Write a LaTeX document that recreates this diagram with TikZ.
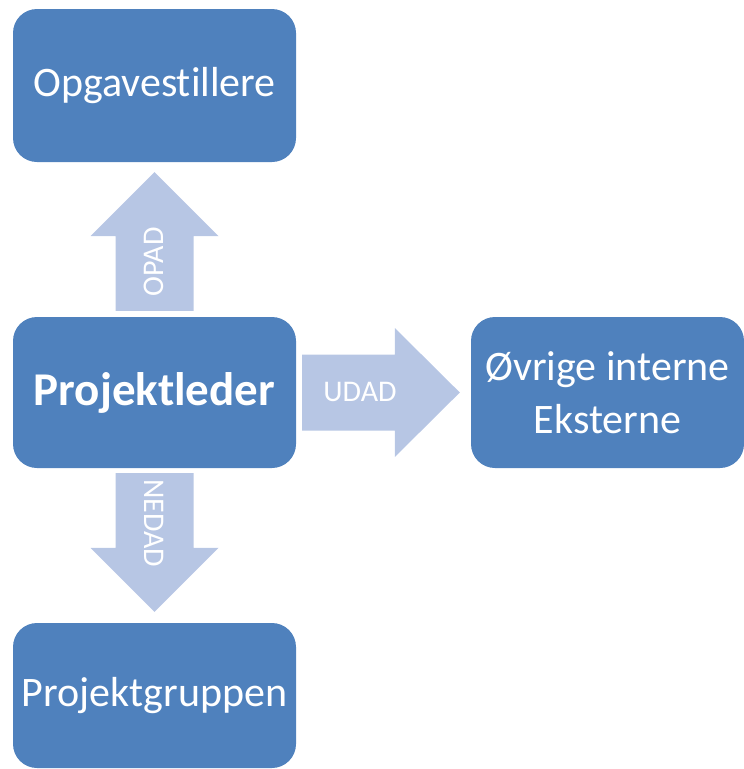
\documentclass[tikz,border=0pt]{standalone}
\usepackage{fontspec}
\setmainfont{Carlito}[Ligatures=NoCommon]
\usetikzlibrary{calc}
\definecolor{boxblue}{RGB}{79,129,189}
\definecolor{arrowblue}{RGB}{183,198,228}

\begin{document}
\begin{tikzpicture}[x=1pt,y=-1pt,
  box/.style={fill=boxblue, rounded corners=24pt, text=white, inner sep=0pt,
    align=center, font=\fontsize{42}{53}\selectfont},
  blockarrow/.style={fill=arrowblue},
  arrowlabel/.style={text=white, inner sep=0pt, font=\fontsize{30}{36}\selectfont}]
\useasboundingbox (0,0) rectangle (744,769);

% boxes
\node[box, minimum width=283pt, minimum height=153pt] (ops) at (154.5,85.5) {Opgavestillere};
\node[box, minimum width=283pt, minimum height=151pt, font=\fontsize{47}{53}\selectfont\bfseries] (lead) at (154.5,392.5) {Projektleder};
\node[box, minimum width=273pt, minimum height=151pt] (ext) at (607.5,392.5) {Øvrige interne\\Eksterne};
\node[box, minimum width=283pt, minimum height=145pt] (grp) at (154.5,695.5) {Projektgruppen};

% arrow end points
\coordinate (upTail) at ($(lead.north)+(0,-6)$);
\coordinate (upTip)  at ($(ops.south)+(0,10)$);
\coordinate (dnTail) at ($(lead.south)+(0,5)$);
\coordinate (dnTip)  at ($(grp.north)+(0,-11)$);
\coordinate (rtTail) at ($(lead.east)+(6,0)$);
\coordinate (rtTip)  at ($(ext.west)+(-11,0)$);

% block arrows
\path[blockarrow] ($(upTail)+(-39,0)$) -- ($(upTip)+(-39,64)$) -- ($(upTip)+(-64,64)$) -- (upTip)
  -- ($(upTip)+(64,64)$) -- ($(upTip)+(39,64)$) -- ($(upTail)+(39,0)$) -- cycle;
\path[blockarrow] ($(dnTail)+(-39,0)$) -- ($(dnTip)+(-39,-64)$) -- ($(dnTip)+(-64,-64)$) -- (dnTip)
  -- ($(dnTip)+(64,-64)$) -- ($(dnTip)+(39,-64)$) -- ($(dnTail)+(39,0)$) -- cycle;
\path[blockarrow] ($(rtTail)+(0,-38)$) -- ($(rtTip)+(-65,-38)$) -- ($(rtTip)+(-65,-64.5)$) -- (rtTip)
  -- ($(rtTip)+(-65,64.5)$) -- ($(rtTip)+(-65,38)$) -- ($(rtTail)+(0,38)$) -- cycle;

% arrow labels
\node[arrowlabel, rotate=90]  (lbUp) at (154,262) {OPAD};
\node[arrowlabel, rotate=-90] (lbDn) at (154,523) {NEDAD};
\node[arrowlabel]             (lbRt) at (360,392) {UDAD};
\end{tikzpicture}
\end{document}
